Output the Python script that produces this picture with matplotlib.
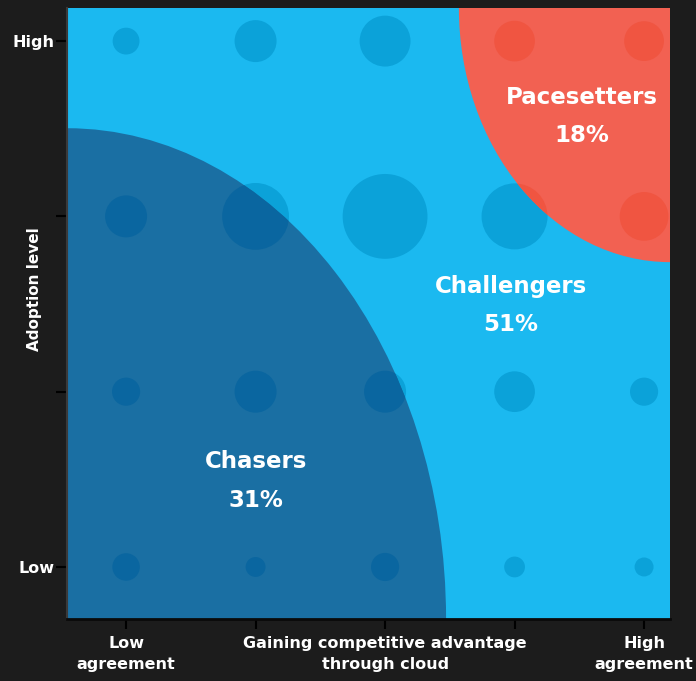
import numpy as np
import matplotlib
matplotlib.use("Agg")
import matplotlib.pyplot as plt
from matplotlib.patches import Ellipse

# grid of the bubble chart
agreement_levels = [1, 2, 3, 4, 5]
adoption_levels = [1, 2, 3, 4]
x_tick_labels = ["Low\nagreement", "", "Gaining competitive advantage\nthrough cloud", "", "High\nagreement"]
y_tick_labels = ["Low", "", "", "High"]

# relative bubble sizes, one row per adoption level (Low -> High)
bubble_values = [
    [10.5, 5.5, 11.0, 6.0, 5.0],
    [11.0, 24.5, 24.5, 23.0, 11.0],
    [24.5, 62.0, 100.0, 60.5, 33.0],
    [10.0, 24.5, 36.0, 23.0, 22.0],
]

segments = ["Chasers", "Challengers", "Pacesetters"]
segment_share = [31, 51, 18]

bg_dark = "#1c1c1c"
light_blue = "#1bb9f0"
dark_blue = "#1a6fa3"
red = "#f26152"

fig = plt.figure(figsize=(6.96, 6.81), dpi=100, facecolor=bg_dark)
ax = fig.add_axes([0.0963, 0.0910, 0.8663, 0.8973])
ax.set_facecolor(light_blue)

xmin, xmax = 0.544, 5.20
ymin, ymax = 0.703, 4.189
ax.set_xlim(xmin, xmax)
ax.set_ylim(ymin, ymax)

xx, yy = np.meshgrid(agreement_levels, adoption_levels)
sizes = np.array(bubble_values) * 37.3

# bubbles on the light blue background (challengers)
ax.scatter(xx.ravel(), yy.ravel(), s=sizes.ravel(), color="#0ba2d9", lw=0, zorder=1)

# segment areas
chasers = Ellipse((xmin, ymin), 2 * 2.927, 2 * 2.80, color=dark_blue, lw=0, zorder=2)
pacesetters = Ellipse((xmax, ymax), 2 * 1.63, 2 * 1.45, color=red, lw=0, zorder=2)
ax.add_patch(chasers)
ax.add_patch(pacesetters)

# bubbles inside the two quarter ellipses, clipped to them
sc = ax.scatter(xx.ravel(), yy.ravel(), s=sizes.ravel(), color="#0a66a0", lw=0, zorder=3)
sc.set_clip_path(chasers)
sc = ax.scatter(xx.ravel(), yy.ravel(), s=sizes.ravel(), color="#f05541", lw=0, zorder=3)
sc.set_clip_path(pacesetters)

label_pos = [(2.0, 1.49), (3.97, 2.49), (4.52, 3.57)]
for name, share, (lx, ly) in zip(segments, segment_share, label_pos):
    ax.text(lx, ly, "{}\n{}%".format(name, share), color="white", fontsize=16.5,
            fontweight="bold", ha="center", va="center", linespacing=1.85, zorder=4)

ax.set_xticks(agreement_levels)
ax.set_xticklabels(x_tick_labels)
ax.set_yticks(adoption_levels)
ax.set_yticklabels(y_tick_labels)
ax.tick_params(axis="x", colors="black", length=7, width=1.5, pad=5,
               labelcolor="white", labelsize=11.5)
ax.tick_params(axis="y", colors="black", length=8, width=1.5, pad=1,
               labelcolor="white", labelsize=11.5)
for lbl in ax.get_xticklabels() + ax.get_yticklabels():
    lbl.set_fontweight("bold")
for lbl in ax.get_xticklabels():
    lbl.set_linespacing(1.5)

ax.set_ylabel("Adoption level", color="white", fontsize=11, fontweight="bold")
ax.yaxis.set_label_coords(-0.042, 0.54)

for side in ["top", "right"]:
    ax.spines[side].set_visible(False)
ax.spines["left"].set_color("#3a3a3a")
ax.spines["left"].set_linewidth(1.5)
ax.spines["bottom"].set_color("#0a0a0a")
ax.spines["bottom"].set_linewidth(2)

plt.savefig("out.png", dpi=100, facecolor=bg_dark)
